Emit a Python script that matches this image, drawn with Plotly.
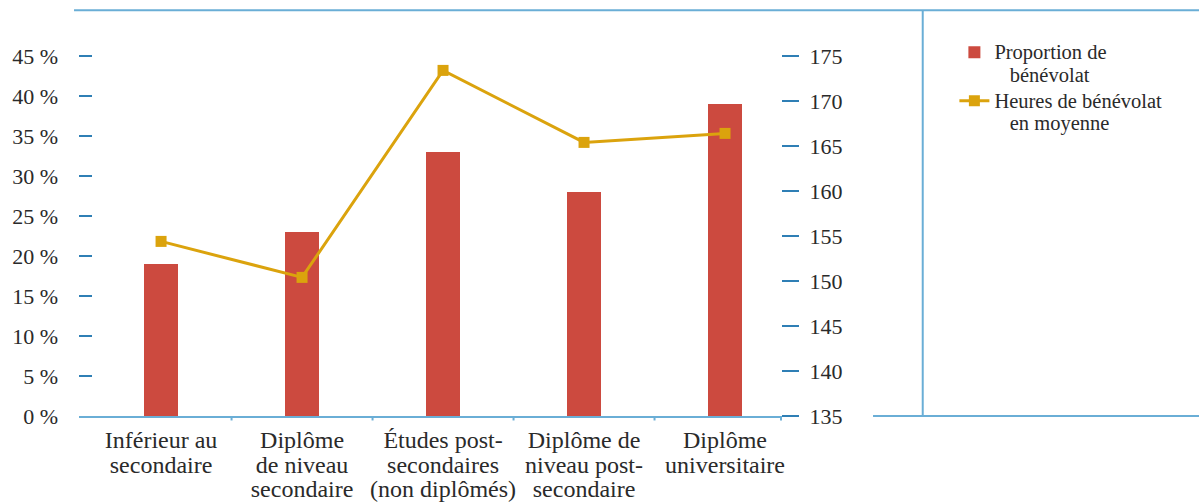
import plotly.graph_objects as go

# ---- data ----
categories = [
    "Inférieur au\nsecondaire",
    "Diplôme\nde niveau\nsecondaire",
    "Études post-\nsecondaires\n(non diplômés)",
    "Diplôme de\nniveau post-\nsecondaire",
    "Diplôme\nuniversitaire",
]
proportion = [19, 23, 33, 28, 39]          # % bénévolat
heures = [154.4, 150.4, 173.4, 165.4, 166.4]  # heures moyennes
left_ticks = [0, 5, 10, 15, 20, 25, 30, 35, 40, 45]
right_ticks = [135, 140, 145, 150, 155, 160, 165, 170, 175]
series_names = ["Proportion de\n\u00a0\u00a0\u00a0bénévolat",
                "Heures de bénévolat\n\u00a0\u00a0\u00a0en moyenne"]

FONT = "Liberation Serif"
TXT = "#2a2a2a"
AXIS = "#6aaed6"
TICK = "#2f7fb5"
BAR = "#cc4a3f"
LINE = "#dba30d"


def tight(text, size):
    """multi-line text with glyphs at `size` px (line spacing from base font)."""
    return "<br>".join(f"<span style='font-size:{size}px'>{ln}</span>" for ln in text.split("\n"))


keys = [c.replace("\n", " ") for c in categories]

fig = go.Figure()
fig.add_trace(go.Bar(
    x=keys, y=proportion, name=tight(series_names[0], 20.5),
    marker=dict(color=BAR, line=dict(width=0)), width=0.24, yaxis="y",
))
fig.add_trace(go.Scatter(
    x=keys, y=heures, name=tight(series_names[1], 20.5), yaxis="y2",
    mode="lines+markers", line=dict(color=LINE, width=3),
    marker=dict(symbol="square", size=11, color=LINE),
))

shapes = []
# top rule
shapes.append(dict(type="line", xref="paper", yref="paper", x0=-0.0071, x1=1.6, y0=1.002, y1=1.002,
                   line=dict(color=AXIS, width=2)))
# vertical separator
shapes.append(dict(type="line", xref="paper", yref="paper", x0=1.2019, x1=1.2019, y0=0, y1=1.002,
                   line=dict(color=AXIS, width=2)))
# bottom rule under legend area
shapes.append(dict(type="line", xref="paper", yref="paper", x0=1.1311, x1=1.6, y0=0, y1=0,
                   line=dict(color=AXIS, width=2)))
# category boundary ticks
for i in range(len(categories) - 1):
    shapes.append(dict(type="line", xref="x", yref="paper", x0=i + 0.5, x1=i + 0.5, y0=0, y1=-0.011,
                       line=dict(color=AXIS, width=2)))
shapes.append(dict(type="line", xref="paper", yref="paper", x0=1, x1=1, y0=0, y1=-0.011,
                   line=dict(color=AXIS, width=2)))

fig.update_layout(
    width=1199, height=504,
    margin=dict(l=79, r=418, t=11, b=88, pad=0, autoexpand=False),
    paper_bgcolor="white", plot_bgcolor="white",
    font=dict(family=FONT, color=TXT, size=22),
    showlegend=True,
    legend=dict(
        x=1.247, y=0.942, xanchor="left", yanchor="top", xref="paper", yref="paper",
        font=dict(family=FONT, size=17.5, color=TXT), valign="top",
        bgcolor="rgba(0,0,0,0)", tracegroupgap=0,
    ),
    bargap=0,
    xaxis=dict(
        type="category", range=[-0.582, 4.397], automargin=False,
        tickmode="array", tickvals=keys, ticktext=[tight(c, 24) for c in categories],
        tickfont=dict(family=FONT, size=19, color=TXT),
        ticks="", showgrid=False, zeroline=False,
        showline=True, linecolor=AXIS, linewidth=2,
        ticklabelstandoff=7,
    ),
    yaxis=dict(
        range=[0, 50.625], tickmode="array", tickvals=left_ticks, automargin=False,
        ticktext=[f"{v} %" for v in left_ticks],
        ticks="inside", ticklen=13, tickwidth=1.5, tickcolor=TICK,
        showgrid=False, zeroline=False, showline=False,
        tickfont=dict(family=FONT, size=22, color=TXT),
        ticklabelstandoff=20,
    ),
    yaxis2=dict(
        range=[135, 180], overlaying="y", side="right", anchor="x", automargin=False,
        tickmode="array", tickvals=right_ticks,
        ticks="outside", ticklen=17, tickwidth=1.5, tickcolor=TICK,
        showgrid=False, zeroline=False, showline=False,
        tickfont=dict(family=FONT, size=22, color=TXT),
        ticklabelstandoff=6,
    ),
    shapes=shapes,
)

fig.write_html(
    "out.html",
    config={"displayModeBar": False},
    post_script="document.body.style.margin='0';document.body.style.overflow='hidden';",
)
